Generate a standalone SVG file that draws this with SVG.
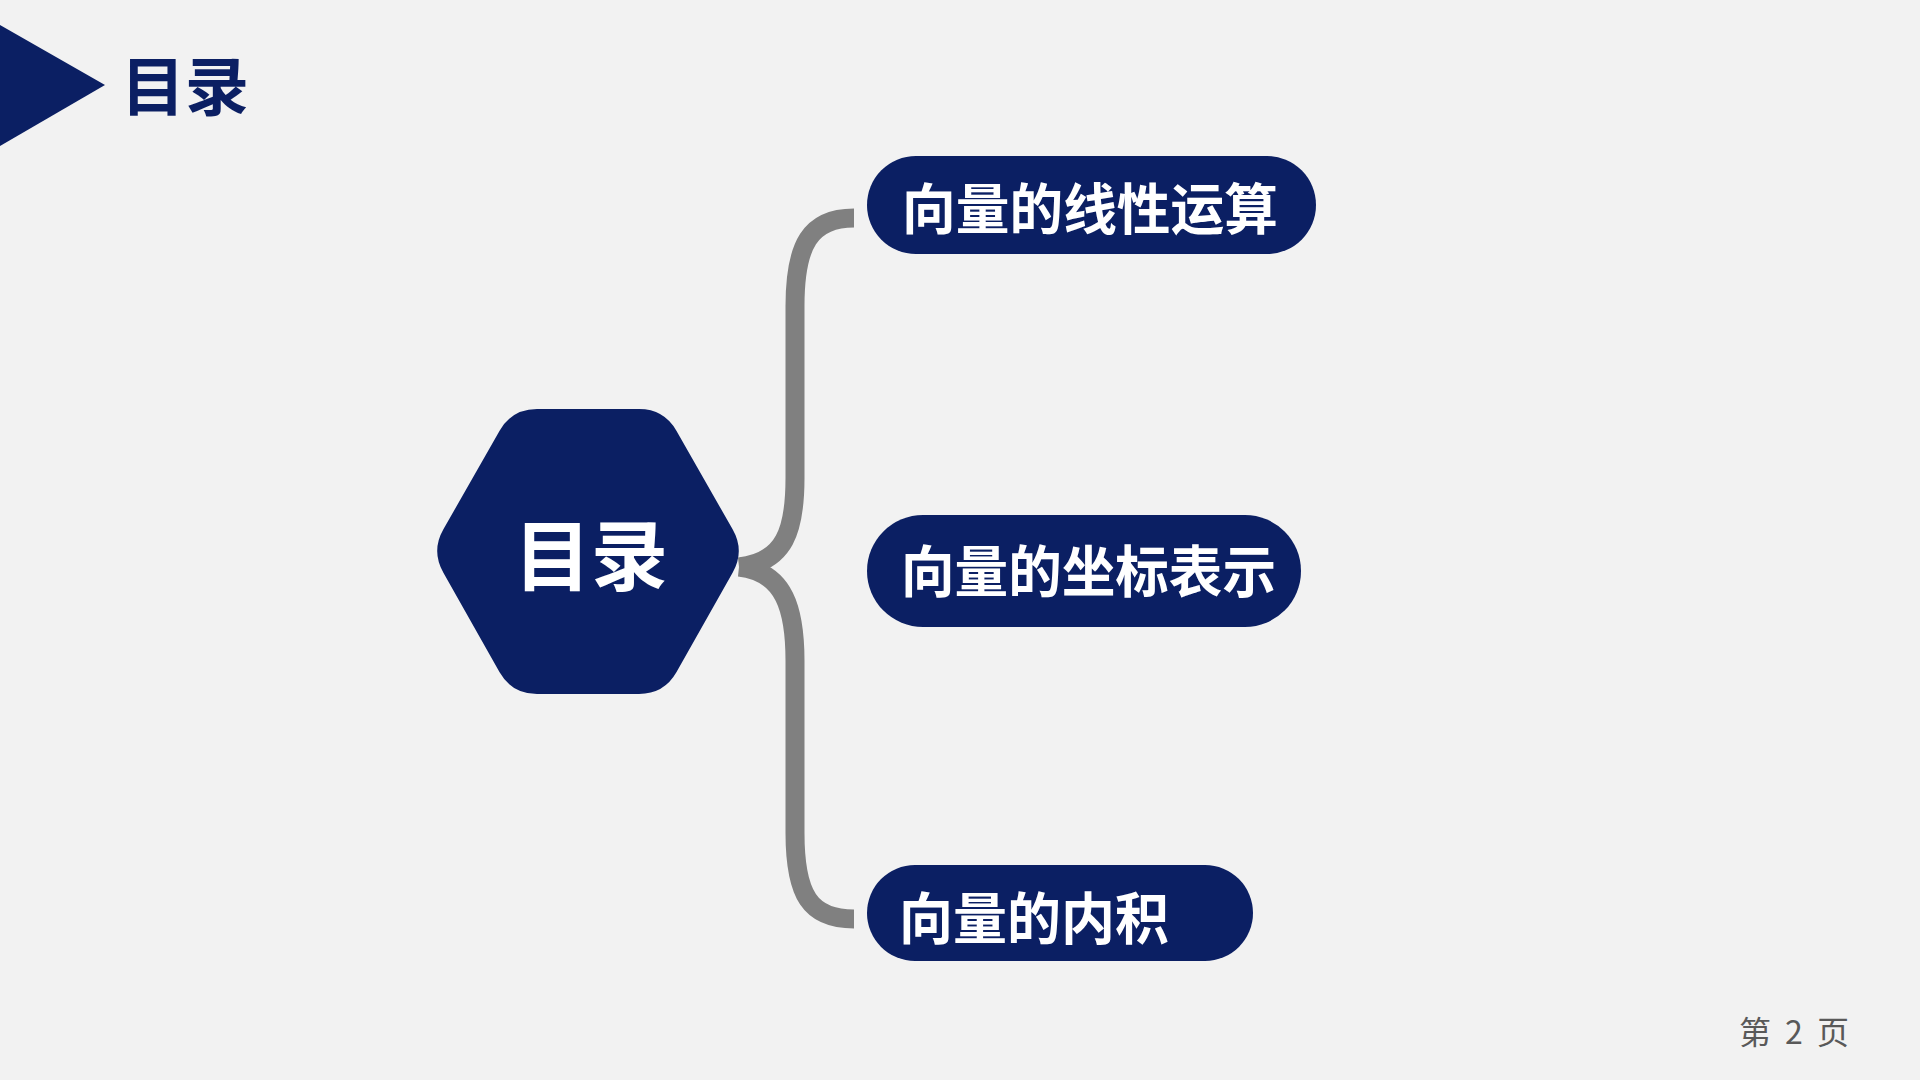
<svg xmlns="http://www.w3.org/2000/svg" width="1920" height="1080" viewBox="0 0 1920 1080">
  <style>
    .navy { fill: #0b1f63; }
    .t { font-family: "Noto Sans CJK SC", "Noto Sans", sans-serif; font-weight: 700; }
    .w { fill: #ffffff; }
    .brace { fill: none; stroke: #808080; stroke-width: 19; stroke-linecap: butt; }
  </style>
  <rect x="0" y="0" width="1920" height="1080" fill="#f2f2f2"/>

  <g id="header">
    <polygon class="navy" points="0,25 105,85 0,146"/>
    <text class="t navy" x="185" y="110" font-size="64" text-anchor="middle">目录</text>
  </g>

  <g id="connectors">
    <path class="brace" d="M739,567 C785,562 795,530 795,478 L795,306 C795,245 810,218 854,218"/>
    <path class="brace" d="M739,567 C785,572 795,610 795,661 L795,833 C795,895 810,919 854,919"/>
  </g>

  <g id="hub">
    <path class="navy" d="M499.6,430.7 Q512,409 537,409 L639,409 Q664,409 676.4,430.7 L732.6,529.3 Q745,551 732.6,572.7 L676.4,672.3 Q664,694 639,694 L537,694 Q512,694 499.6,672.3 L443.4,572.7 Q431,551 443.4,529.3 Z"/>
    <text class="t w" x="591" y="585" font-size="77" text-anchor="middle">目录</text>
  </g>

  <g id="item1">
    <rect class="navy" x="867" y="156" width="449" height="98" rx="49" ry="49"/>
    <text class="t w" x="902" y="229" font-size="55" textLength="376" lengthAdjust="spacingAndGlyphs">向量的线性运算</text>
  </g>

  <g id="item2">
    <rect class="navy" x="867" y="515" width="434" height="112" rx="56" ry="56"/>
    <text class="t w" x="901" y="592" font-size="56" textLength="375" lengthAdjust="spacingAndGlyphs">向量的坐标表示</text>
  </g>

  <g id="item3">
    <rect class="navy" x="867" y="865" width="386" height="96" rx="48" ry="48"/>
    <text class="t w" x="899" y="939" font-size="56" textLength="270" lengthAdjust="spacingAndGlyphs">向量的内积</text>
  </g>

  <g id="page">
    <text x="1739" y="1044" font-family="'Noto Sans CJK SC', 'Noto Sans', sans-serif" font-size="32" fill="#595959" textLength="110" lengthAdjust="spacing">第 2 页</text>
  </g>
</svg>
